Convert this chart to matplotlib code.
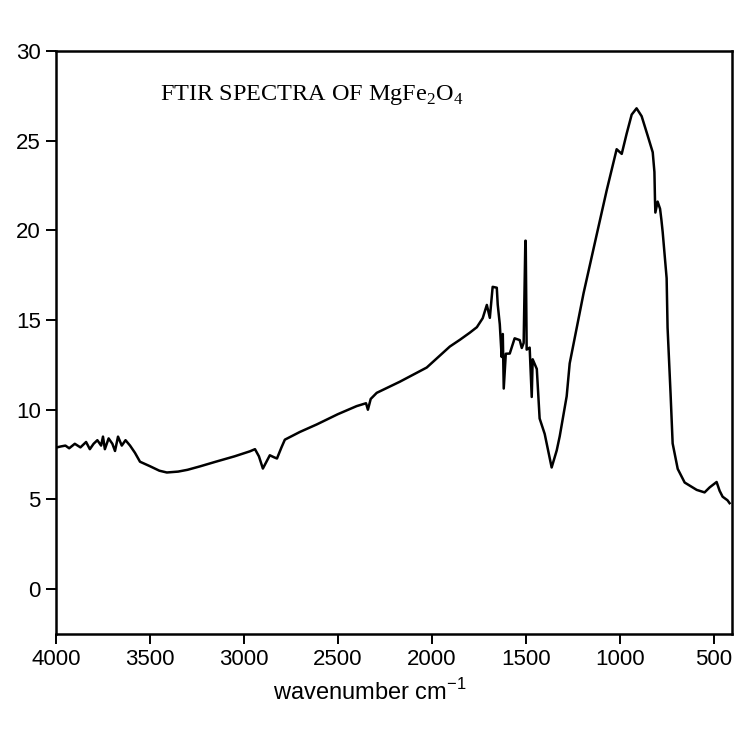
"""
FTIR spectrum of MgFe2O4 - redrawn from a scanned figure
"""

import matplotlib
matplotlib.use("Agg")
import matplotlib.pyplot as plt

# transmittance, wavenumber in cm-1 (descending)
wavenumber = [
    3995, 3975, 3950, 3930, 3900, 3870, 3840, 3820, 3800, 3780, 3760, 3750, 3740,
    3720, 3700, 3686, 3670, 3650, 3630, 3606, 3580, 3553, 3500, 3450, 3410, 3350,
    3300, 3234, 3150, 3050, 2968, 2941, 2920, 2899, 2875, 2862, 2840, 2824, 2800,
    2782, 2702, 2612, 2500, 2400, 2350, 2340, 2325, 2293, 2170, 2027, 1904, 1850,
    1798, 1760, 1729, 1707, 1691, 1676, 1654, 1649, 1638, 1628, 1622, 1617, 1606,
    1585, 1559, 1532, 1521, 1511, 1502, 1500, 1495, 1479, 1468, 1463, 1441, 1426,
    1399, 1362, 1335, 1319, 1282, 1266, 1192, 1122, 1069, 1016, 989, 963, 936,
    910, 883, 851, 824, 815, 812, 810, 798, 785, 778, 771, 750, 745, 729, 718,
    691, 654, 590, 548, 521, 484, 468, 452, 426, 415,
]
transmittance = [
    7.9, 7.95, 8.0, 7.85, 8.1, 7.9, 8.2, 7.8, 8.1, 8.3, 8.0, 8.5, 7.8,
    8.4, 8.1, 7.7, 8.5, 8.0, 8.3, 8.0, 7.6, 7.1, 6.85, 6.6, 6.5, 6.55,
    6.65, 6.84, 7.1, 7.4, 7.68, 7.8, 7.4, 6.72, 7.2, 7.46, 7.35, 7.28, 7.9,
    8.33, 8.76, 9.18, 9.75, 10.2, 10.36, 10.0, 10.6, 10.94, 11.56, 12.35, 13.52, 13.9,
    14.29, 14.6, 15.1, 15.84, 15.12, 16.85, 16.8, 15.86, 14.76, 12.94, 14.22, 11.18, 13.12,
    13.13, 13.98, 13.88, 13.44, 13.72, 19.42, 19.42, 13.35, 13.46, 10.71, 12.81, 12.27, 9.51,
    8.65, 6.78, 7.73, 8.52, 10.75, 12.58, 16.5, 19.77, 22.23, 24.52, 24.26, 25.38, 26.45,
    26.8, 26.36, 25.28, 24.35, 23.25, 21.7, 20.99, 21.6, 21.2, 20.6, 19.9, 17.33, 14.57, 10.88, 8.12,
    6.7, 5.94, 5.53, 5.39, 5.67, 5.97, 5.48, 5.15, 4.95, 4.79,
]

x_ticks = [4000, 3500, 3000, 2500, 2000, 1500, 1000, 500]
y_ticks = [0, 5, 10, 15, 20, 25, 30]

plt.rcParams["font.family"] = ["Liberation Sans", "DejaVu Sans"]

fig = plt.figure(figsize=(7.4, 7.38), dpi=100)
ax = fig.add_axes([0.0757, 0.141, 0.913, 0.790])

ax.plot(wavenumber, transmittance, color="black", linewidth=1.8)

ax.set_xlim(4000, 404)
ax.set_ylim(-2.5, 30)
ax.set_xticks(x_ticks)
ax.set_yticks(y_ticks)
ax.tick_params(direction="out", length=7, width=1.4, labelsize=16, pad=4)
for spine in ax.spines.values():
    spine.set_linewidth(1.8)

ax.set_xlabel("wavenumber cm$^\\mathregular{-1}$", fontsize=17)
ax.xaxis.set_label_coords(0.464, -0.078)

ax.text(0.154, 0.915, "FTIR SPECTRA OF MgFe$_\\mathregular{2}$O$_\\mathregular{4}$",
        transform=ax.transAxes, family="Liberation Serif", fontsize=17.5,
        va="baseline", ha="left")

fig.savefig("out.png", dpi=100)
plt.close(fig)
